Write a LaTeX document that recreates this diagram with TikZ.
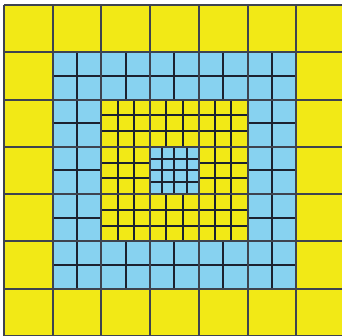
\documentclass[tikz,border=0pt]{standalone}
\definecolor{tileyellow}{RGB}{242,233,22}
\definecolor{tileblue}{RGB}{135,210,240}
\definecolor{gridline}{RGB}{28,34,48}
\begin{document}
\begin{tikzpicture}[x=48.75pt,y=47.2pt,line width=2pt]
\useasboundingbox (-0.078,-0.006) rectangle (6.937,7.112);
\clip (-0.078,-0.006) rectangle (6.937,7.112);
% outer yellow band
\fill[tileyellow] (0,0) rectangle (7,7);
% blue band, halves
\fill[tileblue] (1,1) rectangle (6,6);
\foreach \i in {1,1.5,...,6}{
  \draw[gridline] (\i,1) -- (\i,6);
  \draw[gridline] (1,\i) -- (6,\i);
}
% inner yellow, thirds
\fill[tileyellow] (2,2) rectangle (5,5);
\foreach \i in {0,...,9}{
  \draw[gridline] ({2+\i/3},2) -- ({2+\i/3},5);
  \draw[gridline] (2,{2+\i/3}) -- (5,{2+\i/3});
}
% centre blue, quarters
\fill[tileblue] (3,3) rectangle (4,4);
\foreach \i in {0,...,4}{
  \draw[gridline] ({3+\i/4},3) -- ({3+\i/4},4);
  \draw[gridline] (3,{3+\i/4}) -- (4,{3+\i/4});
}
% big cells
\foreach \i in {0,...,7}{
  \draw[gridline!85] (\i,0) -- (\i,7);
  \draw[gridline!85] (0,\i) -- (7,\i);
}
\end{tikzpicture}
\end{document}
